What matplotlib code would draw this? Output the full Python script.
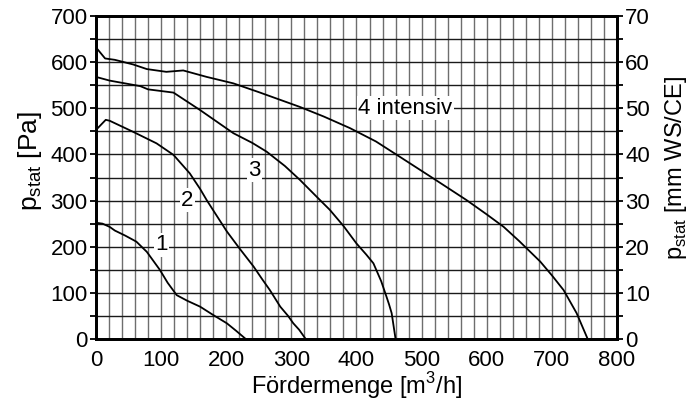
import matplotlib.pyplot as plt
import numpy as np

plt.rcParams['font.family'] = ['Liberation Sans', 'DejaVu Sans']
plt.rcParams['mathtext.fontset'] = 'custom'
plt.rcParams['mathtext.rm'] = 'Liberation Sans'

# curve data: flow [m3/h], static pressure [Pa]
q1 = [0, 10, 21, 29, 45, 62, 78, 98, 110, 124, 140, 160, 180, 201, 215, 230]
p1 = [252, 250, 243, 235, 224, 211, 189, 150, 122, 95, 83, 70, 52, 34, 18, 0]

q2 = [0, 15, 21, 57, 93, 119, 144, 160, 170, 185, 201, 220, 242, 255, 267, 283, 295, 303, 312, 322]
p2 = [453, 475, 473, 449, 424, 399, 359, 325, 301, 268, 233, 197, 157, 130, 106, 70, 50, 34, 20, 0]

q3 = [0, 21, 68, 80, 119, 160, 211, 240, 262, 290, 313, 344, 359, 380, 400, 415, 426, 438, 446, 450, 454, 460]
p3 = [568, 560, 548, 541, 534, 496, 446, 425, 406, 375, 345, 301, 280, 245, 207, 183, 164, 125, 92, 75, 56, 0]

q4 = [0, 14, 29, 57, 78, 108, 134, 170, 211, 250, 313, 350, 390, 430, 462, 518, 569,
      600, 626, 650, 682, 700, 718, 738, 755]
p4 = [632, 608, 605, 595, 585, 579, 582, 568, 554, 535, 503, 482, 457, 428, 399, 348, 301,
      270, 243, 212, 168, 138, 106, 56, 0]

curve_labels = ['1', '2', '3', '4 intensiv']
label_q = [101, 140, 243, 475]
label_p = [204, 301, 366, 500]

fig = plt.figure(figsize=(6.88, 4.03), dpi=100)
ax = fig.add_axes([0.1395, 0.1588, 0.7573, 0.8015])

ax.set_xlim(0, 800)
ax.set_ylim(0, 700)
ax.set_xticks(np.arange(0, 801, 100))
ax.set_yticks(np.arange(0, 701, 100))
ax.set_yticks(np.arange(0, 701, 50), minor=True)
# vertical grid every 20, horizontal every 50
for x in np.arange(20, 800, 20):
    ax.axvline(x, color='#6e6e6e', linewidth=1.0, zorder=1)
for y in np.arange(50, 700, 50):
    ax.axhline(y, color='#1a1a1a', linewidth=1.0, zorder=1)
ax.tick_params(axis='x', which='both', length=0, labelsize=16, pad=8)
ax.tick_params(axis='y', which='both', length=4, width=1.3, labelsize=16, pad=2)
ax.tick_params(axis='y', which='minor', labelleft=False)
for s in ax.spines.values():
    s.set_linewidth(2)

for q, p in [(q1, p1), (q2, p2), (q3, p3), (q4, p4)]:
    ax.plot(q, p, color='black', linewidth=1.3, zorder=3)

for txt, x, y in zip(curve_labels, label_q, label_p):
    ax.text(x, y, txt, fontsize=16, ha='center', va='center', zorder=4,
            bbox=dict(facecolor='white', edgecolor='none', pad=1))

ax.set_xlabel('Fördermenge [m$^3$/h]', fontsize=17, labelpad=-1)
ax.set_ylabel(r'p$_{\mathregular{stat}}$ [Pa]', fontsize=19)
ax.yaxis.set_label_coords(-0.1, 0.55)

ax2 = ax.twinx()
ax2.set_ylim(0, 70)
ax2.set_yticks(np.arange(0, 71, 10))
ax2.set_yticks(np.arange(0, 71, 5), minor=True)
ax2.tick_params(axis='y', which='both', length=4, width=1.3, labelsize=16, pad=2)
ax2.set_ylabel(r'p$_{\mathregular{stat}}$ [mm WS/CE]', fontsize=17)
ax2.yaxis.set_label_coords(1.088, 0.53)
for s in ax2.spines.values():
    s.set_linewidth(2)

fig.savefig('out.png', dpi=100)
